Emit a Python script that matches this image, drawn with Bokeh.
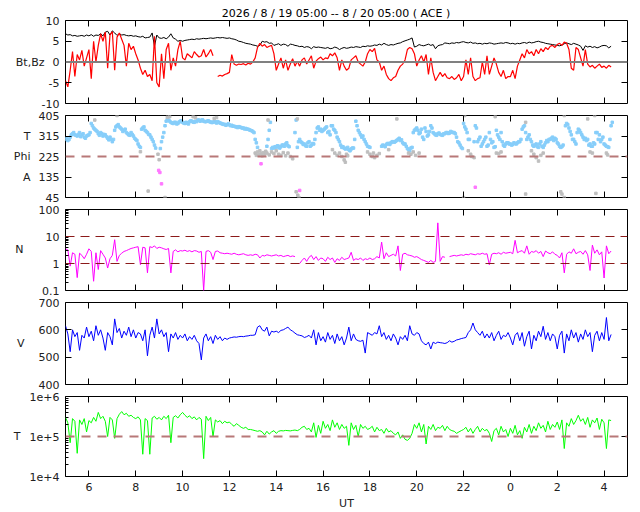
import numpy as np
from bokeh.plotting import figure
from bokeh.layouts import column
from bokeh.models import Range1d, FixedTicker, LinearAxis, LogAxis, Span
from bokeh.embed import file_html
from bokeh.resources import INLINE

TITLE = "2026 /  8 / 19   05:00 --  8 / 20   05:00 ( ACE )"

# sample times (hours UT since 8/19 00:00), 0.1 h spacing
hours = np.round(np.arange(5.0, 28.35, 0.1), 2)

bt = [
 6.8, 6.5, 6.6, 6.3, 6.4, 6.2, 6.3, 6.4, 6.2, 6.5,
 6.3, 6.6, 6.2, 6.5, 6.4, 6.8, 6.3, 7.2, 7.4, 6.5,
 7.5, 7.0, 6.4, 6.8, 6.5, 6.6, 6.4, 6.3, 6.4, 6.2,
 6.3, 6.1, 6.0, 6.2, 5.8, 5.9, 6.0, 7.0, 3.8, 6.5,
 5.8, 5.7, 5.9, 5.6, 6.0, 6.8, 5.8, 5.5, 5.0, 5.2,
 5.0, 5.2, 5.3, 5.4, 5.5, 5.4, 5.6, 5.5, 5.6, 5.7,
 5.6, 5.7, 5.8, 5.7, 5.8, 5.9, 5.8, 5.9, 5.8, 5.7,
 5.8, 5.6, 5.5, 5.3, 5.0, 4.9, 4.7, 4.5, 4.4, 4.3,
 4.1, 4.0, 3.8, 4.0, 5.0, 4.8, 4.9, 4.5, 4.6, 4.0,
 4.2, 4.4, 4.0, 4.3, 4.2, 3.8, 4.3, 4.2, 4.0, 3.9,
 3.7, 3.8, 3.5, 3.7, 3.6, 3.2, 3.7, 3.5, 3.6, 3.5,
 3.4, 3.3, 3.5, 3.2, 3.3, 3.6, 3.4, 3.0, 3.3, 3.5,
 3.3, 3.4, 3.6, 3.5, 3.7, 3.6, 3.5, 3.8, 3.7, 3.9,
 3.8, 3.9, 4.1, 4.0, 4.3, 4.1, 4.5, 4.2, 4.0, 4.2,
 4.1, 4.3, 4.5, 4.6, 4.9, 5.1, 5.3, 5.5, 5.8, 3.6,
 3.8, 4.2, 4.0, 3.9, 4.1, 4.3, 4.0, 4.2, 3.2, 3.9,
 4.1, 4.2, 4.6, 4.5, 4.4, 4.6, 4.5, 4.7, 4.6, 4.8,
 4.9, 4.7, 4.6, 4.8, 4.5, 4.6, 4.4, 4.5, 4.3, 4.5,
 4.4, 4.6, 4.5, 4.3, 4.4, 4.5, 4.6, 4.5, 4.7, 4.6,
 4.4, 4.5, 4.3, 4.5, 4.4, 4.6, 4.7, 4.5, 4.8, 4.6,
 4.7, 4.9, 5.0, 4.8, 4.7, 4.5, 4.4, 4.3, 4.2, 4.1,
 4.0, 3.9, 4.1, 4.4, 4.6, 4.4, 4.2, 4.5, 4.3, 4.1,
 3.8, 2.8, 3.9, 3.6, 3.8, 3.5, 3.7, 3.4, 3.6, 3.9,
 4.0, 3.9, 3.4, 3.8]

nan = float("nan")
bz = [
 -4.5, -6.0, -2.0, 2.5, -3.5, 1.8, 0.5, 2.8, -1.0, 1.0,
 3.0, -4.0, 5.0, 0.0, 4.0, 6.8, 5.0, 7.2, -1.5, 6.5,
 7.3, -2.0, 6.0, 7.0, 5.5, 4.0, -1.0, 4.5, 3.0, 3.8,
 2.0, 0.5, -1.5, -3.0, -2.0, -3.5, -3.0, -4.5, 6.2, -5.0,
 -6.0, 2.0, -4.0, 3.0, 4.5, -2.0, 1.0, -1.0, 3.0, 5.0,
 1.0, 0.5, 2.0, 1.5, 1.0, 2.5, 1.8, 1.2, 1.5, 3.0,
 1.2, 2.0, 3.0, 1.5, nan, -3.5, -3.2, -3.4, -3.0, -2.8,
 -2.5, 1.8, -0.5, -0.8, -0.5, -0.6, -0.4, -0.7, -0.3, -0.5,
 0.0, 1.0, 3.5, 4.5, 3.8, 4.2, 3.5, 3.8, 4.0, 2.0,
 -2.0, -0.5, 1.0, -1.5, 0.5, -2.0, -0.5, 0.8, -1.0, 0.2,
 -1.0, 0.5, 1.0, -0.5, 0.5, 1.5, -1.5, 0.2, 0.8, 1.2,
 0.5, 1.0, 0.8, 2.0, 1.5, 2.2, 1.0, -2.0, 0.5, -1.0,
 -2.0, -1.5, 0.5, 1.0, 1.5, 0.0, -0.5, -1.0, 0.0, 2.0,
 3.0, 2.5, 3.3, 0.5, 0.0, -2.0, -1.0, -3.0, -4.0, -4.5,
 -3.8, -3.5, -2.0, -1.0, -0.5, 0.5, 3.0, 3.5, 3.2, 2.0,
 -1.0, 0.5, 1.5, 0.0, 1.8, -3.0, 1.0, -2.5, -4.5, -3.5,
 -2.5, -3.5, -2.8, -3.8, -4.0, -3.5, -4.2, -3.8, -3.0, -4.5,
 -3.5, 0.5, -3.0, 1.0, -3.5, -4.5, -4.0, -3.8, 0.0, -3.0,
 1.5, -3.0, -1.0, 1.0, -0.5, -2.5, -3.5, -2.0, -4.0, -3.5,
 -3.5, -2.0, -4.0, -1.0, 0.5, 2.0, 1.0, 3.0, 2.0, 2.5,
 1.5, 3.0, 2.0, 3.2, 2.5, 3.5, 3.0, 3.8, 4.0, 3.5,
 4.2, 4.5, 4.0, 4.8, 4.5, 3.0, -1.5, -2.0, 3.5, 3.0,
 1.0, -1.0, 3.0, -0.5, -1.2, -0.8, -1.5, -1.0, -0.5, -1.3,
 -1.0, -1.5, -0.8, -1.2]

phi_blue_a = [
 300, 295, 310, 325, 320, 315, 330, 320, 310, 315,
 320, 370, 350, 340, 325, 330, 315, 320, 305, 310,
 290, 340, 360, 355, 345, 340, 330, 320, 330, 315,
 300, 280, 265, 350, 340, 330, 320, 300, 275, nan,
 nan, 290, 330, 380, 385, 375, 370, 375, 370, 380,
 375, 370, 372, 378, 380, 375, 378, 385, 383, 380,
 378, 382, 376, 375, 377, 378, 372, 368, 366, 365,
 364, 362, 358, 355, 356, 352, 350, 348, 345, 340,
 335, 300, 265, nan, nan, nan, 270, 340, 260, 262,
 265, 270, 268, 275, 280, 272, nan, nan, 330, 265,
 300, 285, 280, 270, 290, 275, 280, 330, 355, 345,
 340, 350, 330, 320, 360, 340, 310, 290, 265, 262,
 260, 255, 258, 262, 380, 340, 320, 315, 290, 270,
 265, nan, nan, nan, nan, 270, 272, 278, 282, 285,
 290, 292, 300, 295, 285, 280, 260, 250, 265, 340,
 350, 325, 345, 300, 335, 320, 360, 330, 320, 325,
 322, 318, 325, 330, 328, 332, 330, 310, 285, 265,
 370, 345, 300, nan, nan, 360, 290, 310, 280, 300,
 270, 330, 285, 265, 340, 310, 330, 275, 280, 285,
 280, 278, 282, 285, 290, 345, 360, 300, 320, 290,
 270, 280, 265, 290, 265, 285, 290, 300, 310, 305,
 285, 270, 268, nan, 370, 350, 320, 300, 280, 345,
 330, 310, 305, 300, 280, 270, 280, 330, 320, 300,
 280, 270, 265, 360]

phi_blue_b = [
 305, 300, 320, 330, 318, 322, 312, 325, 305, 318,
 330, 360, 345, 335, 318, 325, 322, 312, 298, 300,
 300, 355, 365, 350, 335, 345, 325, 318, 322, 305,
 295, 270, 345, 355, 335, 322, 310, 290, 262, nan,
 260, 310, 360, 388, 380, 372, 375, 368, 376, 382,
 372, 375, 368, 382, 376, 380, 385, 380, 386, 378,
 380, 378, 374, 380, 372, 375, 370, 366, 362, 368,
 360, 358, 356, 352, 354, 350, 346, 345, 342, 338,
 330, 285, nan, nan, nan, nan, 300, 375, 265, 268,
 272, 262, 275, 270, 285, 268, nan, nan, 385, 290,
 290, 278, 272, 285, 270, 282, 300, 350, 340, 335,
 345, 355, 335, 360, 345, 330, 300, 275, 268, 258,
 265, 250, 262, 300, 360, 330, 310, 300, 280, 268,
 nan, nan, nan, nan, nan, 275, 268, 282, 278, 290,
 288, 296, 305, 298, 280, 270, 255, 262, 330, 345,
 340, 330, 310, 350, 315, 335, 350, 325, 318, 328,
 320, 325, 330, 326, 335, 330, 325, 290, 275, 260,
 355, 330, 300, nan, 290, 350, 300, 270, 290, 310,
 275, 300, 290, 268, 320, 300, 290, 270, 285, 280,
 275, 285, 280, 290, 300, 355, 330, 310, 300, 275,
 275, 268, 280, 270, 275, 295, 300, 305, 295, 300,
 280, 265, 275, 360, 365, 335, 300, 290, 330, 340,
 320, 300, 295, 275, 270, 285, 330, 300, 290, 310,
 275, 268, 300, 375]

phi_gray_t = [6.25, 7.2, 8.2, 8.53, 8.95, 9.0, 9.25, 9.35, 9.45, 10.45, 10.55, 11.35, 11.45,
 13.1, 13.15, 13.2, 13.25, 13.3, 13.35, 13.4, 13.45, 13.5, 13.55, 13.6, 13.65, 13.7, 13.8,
 13.9, 14.0, 14.1, 14.2, 14.3, 14.4, 14.5, 14.6, 14.7, 14.85, 14.9, 14.92, 14.97,
 16.4, 16.5, 16.6, 16.7, 16.8, 16.9, 16.95, 17.0, 17.05,
 17.9, 18.0, 18.1, 18.15, 18.2, 18.3, 18.4, 18.8, 19.15, 19.65, 19.75, 19.85, 19.95, 20.1,
 22.0, 22.05, 22.2, 22.3, 22.35, 22.45, 23.35, 23.4, 23.5, 23.6,
 24.65, 24.65, 24.9, 25.0, 25.1, 25.2, 25.3, 25.4,
 26.3, 26.15, 26.2, 26.3, 27.3, 27.4, 27.5, 27.6, 27.65, 28.1, 28.15]
phi_gray_v = [385, 405, 246, 73, 235, 211, 45, 398, 400, 400, 396, 392, 396,
 240, 230, 245, 232, 250, 238, 228, 242, 235, 248, 240, 385, 232, 245,
 238, 250, 235, 230, 242, 228, 240, 225, 215, 70, 390, 55, 45,
 255, 240, 230, 240, 225, 210, 200, 235, 228,
 245, 235, 225, 240, 220, 230, 238, 255, 390, 240, 235, 245, 230, 240,
 45, 405, 250, 235, 225, 220, 400, 240, 238, 245,
 375, 60, 250, 235, 220, 205, 230, 240,
 405, 70, 60, 45, 390, 245, 240, 405, 63, 240, 232]

phi_pink_t = [8.98, 9.03, 9.1, 13.35, 15.0, 22.5]
phi_pink_v = [164, 155, 105, 193, 76, 90]

density = [
 3.5, 3.2, 0.8, 2.5, 2.2, 0.3, 2.4, 2.0, 1.5, 2.2,
 3.5, 2.8, 0.22, 2.5, 0.6, 3.0, 2.2, 1.6, 0.68, 1.5,
 2.0, 7.6, 1.2, 2.0, 2.4, 2.8, 3.0, 3.3, 3.6, 3.8,
 4.0, 4.2, 0.9, 4.0, 3.8, 0.45, 4.2, 3.9, 4.5, 3.6,
 4.0, 3.8, 3.5, 3.3, 3.6, 0.45, 2.8, 3.2, 2.7, 3.0,
 2.9, 3.1, 2.8, 3.0, 2.7, 3.0, 2.9, 2.6, 2.8, 0.1,
 2.8, 3.0, 2.6, 1.4, 2.8, 2.9, 2.5, 2.4, 2.3, 2.4,
 2.3, 2.2, 2.4, 2.2, 2.1, 2.2, 2.3, 2.1, 2.0, 2.1,
 2.0, 2.2, 2.1, 1.6, 2.0, 1.9, 2.1, 2.0, 1.9, 2.0,
 2.1, 1.9, 2.0, 1.8, 1.9, 2.0, 1.8, 1.9, 1.8, nan,
 1.0, 1.3, 1.6, 1.2, 1.7, 2.0, 1.4, 1.8, 1.3, 1.6,
 1.5, 1.2, 1.7, 1.4, 1.6, 1.1, 1.5, 1.3, 1.7, 1.4,
 1.5, 1.6, 2.6, 1.3, 1.5, 1.4, 1.6, 1.3, 1.5, 1.4,
 1.6, 1.4, 1.5, 1.8, 1.6, 6.2, 1.5, 2.5, 1.8, 2.0,
 2.2, 1.9, 4.5, 0.55, 2.2, 2.4, 2.1, 2.0, 1.9, 1.7,
 1.8, 1.6, 1.4, 1.3, 1.2, 1.1, 1.3, 1.1, 1.2, 32.0,
 1.2, 1.8, 1.7, nan, 1.8, 1.9, 2.0, 1.9, 2.0, 2.1,
 2.0, 2.2, 2.1, 2.3, 2.2, 2.1, 2.3, 2.2, 2.4, 2.2,
 2.3, 0.9, 2.2, 2.4, 2.3, 2.5, 2.2, 2.6, 2.4, 2.5,
 2.6, 2.3, 7.2, 2.5, 2.8, 3.0, 2.4, 4.5, 2.2, 2.8,
 2.6, 3.0, 2.4, 2.8, 1.8, 2.9, 2.5, 2.3, 2.7, 2.2,
 2.0, 1.6, 2.5, 0.45, 2.2, 2.7, 2.4, 3.5, 2.3, 2.6,
 2.8, 2.2, 3.0, 2.1, 0.55, 4.8, 2.4, 3.2, 2.1, 2.7,
 0.29, 4.5, 2.3, 2.9]

speed = [
 615, 585, 520, 600, 575, 590, 525, 580, 570, 610,
 575, 595, 560, 615, 580, 600, 570, 525, 590, 575,
 545, 640, 590, 605, 570, 595, 580, 610, 575, 600,
 570, 590, 585, 560, 600, 505, 580, 610, 570, 640,
 585, 600, 575, 590, 520, 585, 570, 590, 565, 580,
 570, 585, 560, 575, 565, 580, 560, 550, 490, 570,
 585, 560, 575, 550, 580, 565, 575, 560, 570, 565,
 570, 572, 574, 573, 575, 576, 575, 577, 578, 580,
 580, 582, 610, 615, 600, 595, 610, 578, 595, 592,
 595, 590, 598, 600, 605, 610, 600, 595, 588, 582,
 580, 578, 572, 575, 580, 570, 600, 545, 590, 560,
 575, 555, 590, 565, 580, 550, 585, 560, 575, 545,
 570, 610, 560, 585, 565, 560, 558, 562, 515, 590,
 585, 580, 590, 585, 615, 575, 590, 565, 580, 560,
 585, 570, 545, 575, 565, 580, 560, 615, 585, 580,
 590, 585, 560, 550, 545, 555, 530, 555, 550, 555,
 553, 552, 550, 553, 560, 555, 558, 563, 565, 568,
 570, 572, 590, 600, 625, 600, 590, 580, 595, 570,
 585, 570, 590, 560, 580, 595, 565, 580, 575, 590,
 570, 545, 580, 590, 560, 590, 540, 575, 595, 530,
 580, 560, 595, 575, 613, 565, 590, 560, 585, 575,
 530, 580, 595, 515, 585, 560, 600, 570, 590, 555,
 585, 565, 600, 575, 590, 520, 580, 595, 560, 590,
 565, 645, 560, 583]

temp_1e5 = [
 3.0, 2.2, 0.7, 2.8, 2.4, 0.38, 2.6, 2.0, 2.8, 1.3,
 2.5, 2.2, 3.0, 2.4, 4.0, 2.8, 3.2, 2.4, 1.0, 3.0,
 2.6, 0.9, 2.8, 3.6, 4.2, 3.5, 3.8, 3.2, 3.4, 3.0,
 2.8, 3.1, 2.6, 0.36, 2.8, 2.5, 0.36, 2.9, 3.2, 2.7,
 3.0, 2.6, 3.2, 2.8, 3.4, 0.7, 3.0, 3.3, 2.9, 3.5,
 4.0, 3.4, 3.0, 3.3, 2.8, 3.1, 2.6, 3.0, 2.7, 0.28,
 3.2, 2.5, 3.0, 1.0, 2.6, 2.3, 2.5, 2.1, 2.4, 2.2,
 2.3, 2.0, 1.8, 2.1, 1.9, 1.7, 1.6, 1.7, 1.5, 1.5,
 1.45, 1.4, 1.35, 1.4, 1.3, 1.1, 1.35, 1.15, 1.3, 1.4,
 1.2, 1.35, 1.4, 1.38, 1.42, 1.4, 1.38, 1.42, 1.45, 1.4,
 1.5, 1.7, 1.8, 1.5, 1.6, 1.3, 2.2, 0.95, 1.9, 1.2,
 2.4, 1.6, 2.0, 1.4, 2.6, 1.7, 2.2, 1.5, 2.0, 1.6,
 1.8, 0.6, 2.2, 1.5, 1.9, 1.0, 2.0, 1.6, 1.8, 1.5,
 1.6, 1.8, 1.3, 1.7, 1.4, 1.5, 1.2, 1.6, 1.3, 1.4,
 1.2, 1.1, 1.3, 0.9, 1.1, 0.85, 0.8, 0.9, 1.2, 2.0,
 1.6, 2.2, 1.3, 2.0, 0.65, 1.8, 1.5, 2.0, 1.4, 1.7,
 1.6, 1.9, 1.4, 1.8, 1.5, 1.4, 1.35, 1.2, 1.3, 1.4,
 1.5, 1.7, 1.3, 1.6, 1.2, 1.5, 1.8, 1.3, 1.6, 1.4,
 1.5, 1.2, 0.75, 1.4, 1.6, 1.1, 1.8, 1.3, 1.5, 1.0,
 1.6, 1.2, 1.9, 1.1, 1.4, 0.9, 1.7, 1.3, 2.0, 1.2,
 1.8, 1.4, 2.2, 1.6, 1.9, 1.3, 2.4, 1.5, 2.0, 1.7,
 2.3, 1.5, 2.6, 0.5, 2.2, 1.8, 2.8, 2.0, 2.5, 3.4,
 2.4, 2.8, 2.0, 3.0, 1.7, 2.6, 2.2, 2.9, 1.5, 2.7,
 2.2, 0.5, 2.6, 2.5]

XTICKS = [6, 8, 10, 12, 14, 16, 18, 20, 22, 24, 26, 28]
XLABELS = {t: str(t % 24) for t in XTICKS}

FONT = "DejaVu Sans"
FS = "11px"
W = 640
TXT = "#202020"


def series(arr, offset=0.0):
    n = min(len(hours), len(arr))
    return hours[:n] + offset, np.array(arr[:n], dtype=float)


def hidden(ax):
    ax.major_label_text_font_size = "1px"
    ax.major_label_text_color = None
    ax.major_label_standoff = 0
    ax.axis_line_color = None
    ax.major_tick_in = 6
    ax.major_tick_out = 0
    ax.minor_tick_line_color = None
    ax.major_tick_line_color = "black"


def panel(height, yr, yticks, ylabels, names, name_standoff, log=False, top=6, bottom=6,
          minor=None, bottom_labels=False):
    kw = dict(width=W, height=height, x_range=Range1d(5, 29), y_range=Range1d(*yr),
              output_backend="svg", toolbar_location=None,
              min_border_left=65, min_border_right=13, min_border_top=top,
              min_border_bottom=bottom, x_axis_location=None, y_axis_location=None)
    if log:
        kw["y_axis_type"] = "log"
    p = figure(**kw)
    p.xgrid.visible = False
    p.ygrid.visible = False
    p.outline_line_color = "black"
    p.outline_line_width = 1
    p.outline_line_alpha = 1
    p.background_fill_color = "white"
    p.border_fill_color = "white"
    YAx = LogAxis if log else LinearAxis
    left = YAx(ticker=FixedTicker(ticks=yticks, minor_ticks=minor or []),
               major_label_overrides=ylabels)
    left.axis_line_color = None
    left.major_tick_in = 6
    left.major_tick_out = 0
    left.minor_tick_in = 3
    left.minor_tick_out = 0
    left.major_label_standoff = 6
    left.major_label_text_font = FONT
    left.major_label_text_font_size = FS
    left.major_label_text_color = TXT
    p.add_layout(left, "left")
    # quantity names, drawn as a second, tickless axis outside the tick labels
    name_ax = YAx(ticker=FixedTicker(ticks=list(names.keys()), minor_ticks=[]),
                  major_label_overrides=names)
    name_ax.axis_line_color = None
    name_ax.major_tick_line_color = None
    name_ax.minor_tick_line_color = None
    name_ax.major_tick_in = 0
    name_ax.major_tick_out = 0
    name_ax.major_label_standoff = name_standoff
    name_ax.major_label_text_font = FONT
    name_ax.major_label_text_font_size = FS
    name_ax.major_label_text_color = TXT
    p.add_layout(name_ax, "left")
    right = YAx(ticker=FixedTicker(ticks=yticks[1:-1]))
    hidden(right)
    p.add_layout(right, "right")
    above = LinearAxis(ticker=FixedTicker(ticks=XTICKS))
    hidden(above)
    p.add_layout(above, "above")
    below = LinearAxis(ticker=FixedTicker(ticks=XTICKS), major_label_overrides=XLABELS)
    if bottom_labels:
        below.axis_line_color = None
        below.major_tick_in = 6
        below.major_tick_out = 0
        below.minor_tick_line_color = None
        below.major_label_standoff = 6
        below.major_label_text_font = FONT
        below.major_label_text_font_size = FS
        below.major_label_text_color = TXT
        below.axis_label = "UT"
        below.axis_label_standoff = 3
        below.axis_label_text_font = FONT
        below.axis_label_text_font_size = FS
        below.axis_label_text_font_style = "normal"
        below.axis_label_text_color = TXT
    else:
        hidden(below)
    p.add_layout(below, "below")
    return p


# Panel 1: Bt, Bz
p1 = panel(109, (-10, 10), [-10, -5, 0, 5, 10],
           {-10: "-10", -5: "-5", 0: "0", 5: "5", 10: "10"},
           {0: "Bt,Bz"}, -6, top=20)
p1.title.text = TITLE
p1.title.align = "center"
p1.title.text_font = FONT
p1.title.text_font_size = FS
p1.title.text_font_style = "normal"
p1.title.text_color = "black"
p1.title.standoff = 2
p1.add_layout(Span(location=0, dimension="width", line_color="#808080", line_width=2))
x, y = series(bt)
p1.line(x, y, line_color="black", line_width=1)
x, y = series(bz)
p1.line(x, y, line_color="red", line_width=1.2)

# Panel 2: Phi
p2 = panel(94, (45, 405), [45, 135, 225, 315, 405],
           {45: "45", 135: "135", 225: "225", 315: "315", 405: "405"},
           {315: "T", 225: "Phi", 135: "A"}, 5)
p2.add_layout(Span(location=225, dimension="width", line_color="#b87878",
                   line_width=2, line_dash="9 7"))
x, y = series(phi_blue_a)
p2.scatter(x, y, marker="square", size=2.5, fill_color="#87cefa", line_color="#87cefa")
x, y = series(phi_blue_b, 0.05)
p2.scatter(x, y, marker="square", size=2.5, fill_color="#87cefa", line_color="#87cefa")
p2.scatter(phi_gray_t[:len(phi_gray_v)], phi_gray_v[:len(phi_gray_t)], marker="square",
           size=2.5, fill_color="#bebebe", line_color="#bebebe")
p2.scatter(phi_pink_t, phi_pink_v, marker="square", size=2.5,
           fill_color="#ff77ff", line_color="#ff77ff")

# Panel 3: N
nminor = [m * 10.0 ** e for e in (-1, 0, 1) for m in range(2, 10)]
p3 = panel(93, (0.1, 100), [0.1, 1, 10, 100],
           {0.1: "0.1", 1: "1", 10: "10", 100: "100"},
           {3.3: "N"}, 12, log=True, minor=nminor)
for lv in (10, 1):
    p3.add_layout(Span(location=lv, dimension="width", line_color="#8b1a1a",
                       line_width=1.2, line_dash="9 6"))
x, y = series(density)
p3.line(x, y, line_color="#ff00ff", line_width=1)

# Panel 4: V
p4 = panel(94, (400, 700), [400, 500, 600, 700],
           {400: "400", 500: "500", 600: "600", 700: "700"},
           {550: "V"}, 11)
x, y = series(speed)
p4.line(x, y, line_color="#0000ff", line_width=1)

# Panel 5: T
tminor = [m * 10.0 ** e for e in (4, 5) for m in range(2, 10)]
p5 = panel(122, (1e4, 1e6), [1e4, 1e5, 1e6],
           {1e4: "1e+4", 1e5: "1e+5", 1e6: "1e+6"},
           {1e5: "T"}, 6, log=True, minor=tminor,
           bottom=34, bottom_labels=True)
p5.add_layout(Span(location=1e5, dimension="width", line_color="#b87878",
                   line_width=2, line_dash="9 7"))
x, y = series(temp_1e5)
p5.line(x, y * 1e5, line_color="#00ff00", line_width=1)

layout = column(p1, p2, p3, p4, p5, spacing=0)
html = file_html(layout, INLINE)
html = html.replace("<head>", "<head><style>html,body{overflow:hidden;}</style>", 1)
open("out.html", "w").write(html)
